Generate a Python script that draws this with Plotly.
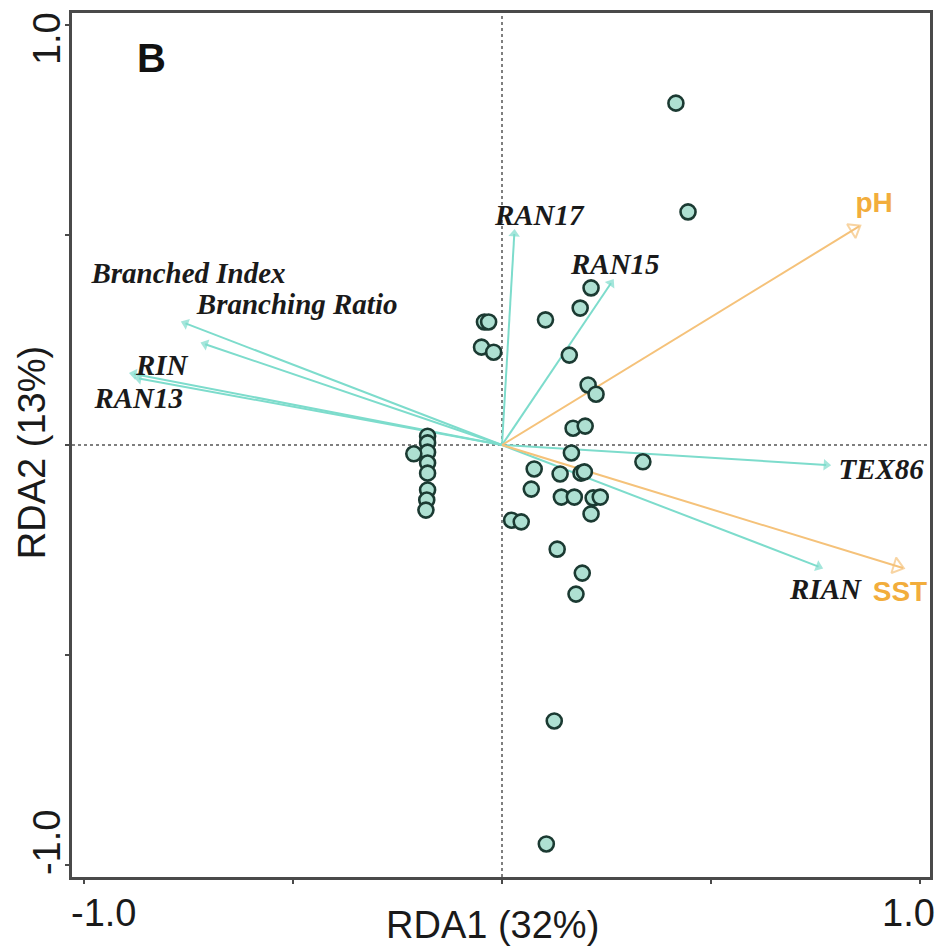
import plotly.graph_objects as go

# ---------------- data ----------------
site_x = [-0.042, -0.032, -0.049, -0.020,
          -0.178, -0.178, -0.178, -0.211, -0.178, -0.178, -0.178, -0.180, -0.182,
          0.104, 0.187, 0.213, 0.161, 0.206, 0.225, 0.170, 0.199, 0.166, 0.337,
          0.077, 0.139, 0.189, 0.197, 0.070, 0.142, 0.173, 0.218, 0.235, 0.213,
          0.023, 0.046, 0.132, 0.192, 0.177, 0.125, 0.106, 0.416, 0.445]
site_y = [0.293, 0.293, 0.233, 0.221,
          0.021, 0.005, -0.017, -0.021, -0.043, -0.067, -0.107, -0.131, -0.155,
          0.298, 0.326, 0.374, 0.214, 0.143, 0.121, 0.040, 0.045, -0.019, -0.040,
          -0.057, -0.069, -0.067, -0.064, -0.105, -0.124, -0.124, -0.126, -0.124, -0.164,
          -0.179, -0.183, -0.248, -0.305, -0.355, -0.657, -0.950, 0.814, 0.555]

species_names = ["Branched Index", "Branching Ratio", "RIN", "RAN13",
                 "RAN17", "RAN15", "TEX86", "RIAN"]
species_x = [-0.766, -0.719, -0.890, -0.878, 0.030, 0.266, 0.785, 0.766]
species_y = [0.293, 0.243, 0.171, 0.160, 0.512, 0.393, -0.048, -0.293]
species_label_x = [-0.750, -0.490, -0.814, -0.869, 0.089, 0.271, 0.907, 0.774]
species_label_y = [0.402, 0.329, 0.183, 0.105, 0.540, 0.424, -0.064, -0.350]

env_names = ["pH", "SST"]
env_x = [0.855, 0.959]
env_y = [0.521, -0.293]
env_label_x = [0.890, 0.952]
env_label_y = [0.571, -0.355]

tick_vals = [-1.0, -0.5, 0.0, 0.5, 1.0]
tick_labels = ["-1.0", "1.0"]
tick_label_vals = [-1.0, 1.0]

x_title = "RDA1 (32%)"
y_title = "RDA2 (13%)"
panel = "B"

# ---------------- styles ----------------
TEAL = "#7ddccc"
ORANGE = "#f5c27a"
ORANGE_TXT = "#f2ad3c"
AXIS = "#4a4a4a"
XR = [-1.0286, 1.0238]
YR = [-1.0286, 1.0286]

fig = go.Figure()

# zero lines
fig.add_trace(go.Scatter(x=[0, 0], y=YR, mode="lines",
                         line=dict(color="#555555", width=1.5, dash="3px,3px"),
                         hoverinfo="skip", showlegend=False))
fig.add_trace(go.Scatter(x=XR, y=[0, 0], mode="lines",
                         line=dict(color="#555555", width=1.5, dash="3px,3px"),
                         hoverinfo="skip", showlegend=False))

# species arrows (teal)
for sx, sy in zip(species_x, species_y):
    fig.add_trace(go.Scatter(
        x=[0, sx], y=[0, sy], mode="lines+markers",
        line=dict(color=TEAL, width=2),
        marker=dict(symbol=["circle", "triangle-up"], size=[0, 10],
                    color=TEAL, angleref="previous", standoff=4,
                    line=dict(width=0)),
        hoverinfo="skip", showlegend=False))

# environmental arrows (orange, open heads)
for ex, ey in zip(env_x, env_y):
    fig.add_trace(go.Scatter(
        x=[0, ex], y=[0, ey], mode="lines+markers",
        line=dict(color=ORANGE, width=2),
        marker=dict(symbol=["circle", "triangle-up-open"], size=[0, 14],
                    color=ORANGE, angleref="previous", standoff=6,
                    line=dict(width=2, color=ORANGE)),
        hoverinfo="skip", showlegend=False))

# sites
fig.add_trace(go.Scatter(
    x=site_x, y=site_y, mode="markers",
    marker=dict(symbol="circle", size=15, color="#aee0d2",
                line=dict(color="#1b3a32", width=2.6)),
    hoverinfo="skip", showlegend=False))

# labels
fig.add_trace(go.Scatter(
    x=species_label_x, y=species_label_y, mode="text", text=species_names,
    textfont=dict(family="Liberation Serif", size=29, color="#1a1a1a",
                  style="italic", weight="bold"),
    hoverinfo="skip", showlegend=False))
fig.add_trace(go.Scatter(
    x=env_label_x, y=env_label_y, mode="text", text=env_names,
    textfont=dict(family="Liberation Sans", size=28, color=ORANGE_TXT, weight="bold"),
    hoverinfo="skip", showlegend=False))

W, H = 938, 948
L, R, T, B = 72, 5, 13, 71

fig.update_layout(
    width=W, height=H,
    margin=dict(l=L, r=R, t=T, b=B),
    plot_bgcolor="white", paper_bgcolor="white",
    xaxis=dict(range=XR, tickvals=tick_vals, showticklabels=False, ticks="outside",
               ticklen=4, tickwidth=2, tickcolor=AXIS, showgrid=False, zeroline=False,
               showline=True, linewidth=3, linecolor=AXIS, mirror=True),
    yaxis=dict(range=YR, tickvals=tick_vals, showticklabels=False, ticks="outside",
               ticklen=4, tickwidth=2, tickcolor=AXIS, showgrid=False, zeroline=False,
               showline=True, linewidth=3, linecolor=AXIS, mirror=True),
)


def px_to_paper(px, py):
    return (px - L) / (W - L - R), 1 - (py - T) / (H - T - B)


FONT = dict(family="Liberation Sans", size=38, color="#1a1a1a")
ann = []
ann.append(dict(text=panel, x=-0.838, y=0.921, xref="x", yref="y", showarrow=False,
                xanchor="center", yanchor="middle",
                font=dict(family="Liberation Sans", size=40, color="#111111", weight="bold")))
px, py = px_to_paper(494, 925)
ann.append(dict(text=x_title, x=px, y=py, xref="paper", yref="paper", showarrow=False,
                xanchor="center", yanchor="middle", font=FONT))
px, py = px_to_paper(32, 453)
ann.append(dict(text=y_title, x=px, y=py, xref="paper", yref="paper", showarrow=False,
                xanchor="center", yanchor="middle", textangle=-90, font=FONT))
# tick labels (shifted inward like the reference)
xshift = {-1.0: 20, 1.0: -12}
for v, t in zip(tick_label_vals, tick_labels):
    _, py = px_to_paper(0, 913)
    ann.append(dict(text=t, x=v, y=py, xref="x", yref="paper", showarrow=False,
                    xanchor="center", yanchor="middle", xshift=xshift[v], font=FONT))
yshift = {1.0: -14, -1.0: 22}
for v, t in zip(tick_label_vals, tick_labels):
    px, _ = px_to_paper(47, 0)
    ann.append(dict(text=t, x=px, y=v, xref="paper", yref="y", showarrow=False,
                    xanchor="center", yanchor="middle", yshift=yshift[v],
                    textangle=-90, font=FONT))

fig.update_layout(annotations=ann)
fig.write_html("out.html", config={"displayModeBar": False},
               post_script="document.body.style.margin='0';")
